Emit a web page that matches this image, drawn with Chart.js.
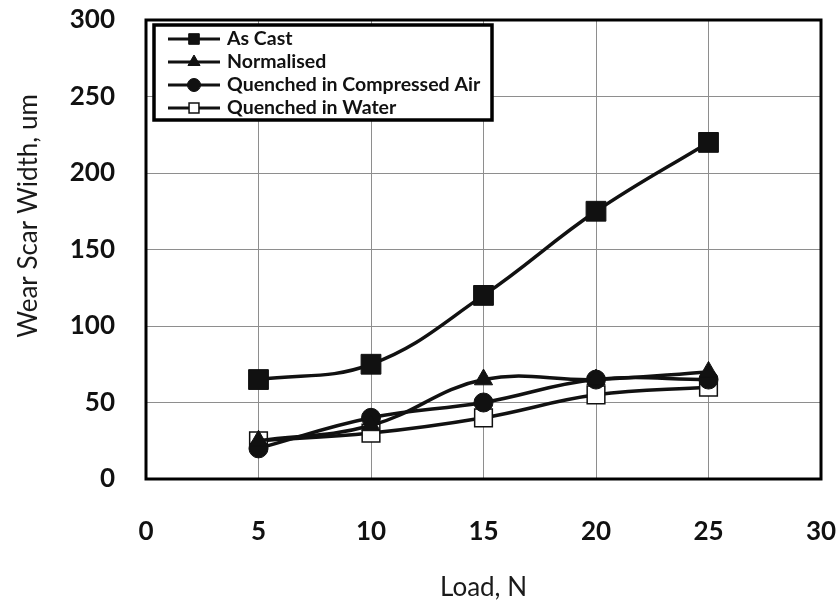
<!DOCTYPE html>
<html>
<head>
<meta charset="utf-8">
<script src="https://cdn.jsdelivr.net/npm/chart.js@4/dist/chart.umd.min.js"></script>
<style>
  html, body { margin:0; padding:0; background:#fff; }
  #wrap { width:840px; height:603px; position:relative; }
</style>
</head>
<body>
<div id="wrap"><canvas id="wearChart" width="840" height="603"></canvas></div>
<script>
(function() {

  // ─── DATA ───
  const loads        = [5, 10, 15, 20, 25];
  const asCast       = [65, 75, 120, 175, 220];
  const normalised   = [25, 35, 65, 65, 70];
  const compressedAir= [20, 40, 50, 65, 65];
  const water        = [25, 30, 40, 55, 60];

  const seriesNames  = ['As Cast', 'Normalised', 'Quenched in Compressed Air', 'Quenched in Water'];
  const xTicks       = [0, 5, 10, 15, 20, 25, 30];
  const yTicks       = [0, 50, 100, 150, 200, 250, 300];

  const INK = '#111111';
  const GRID = '#8e8e8e';
  const FONT = 'Lato, "Open Sans", sans-serif';

  function pts(vals) {
    return loads.map((x, i) => ({ x: x, y: vals[i] }));
  }

  function series(label, vals, style, radius, fill, bw) {
    return {
      label: label, data: pts(vals),
      borderColor: INK, borderWidth: 3.5, tension: 0.4,
      pointStyle: style, pointRadius: radius, pointHoverRadius: radius,
      pointBackgroundColor: fill, pointBorderColor: INK, pointBorderWidth: bw,
      fill: false
    };
  }

  // ─── PLOT FRAME + LEGEND + Y TITLE ───
  const frame = {
    id: 'frame',
    beforeDatasetsDraw(chart) {
      const { ctx, chartArea: a } = chart;
      ctx.save();
      ctx.strokeStyle = '#000';
      ctx.lineWidth = 3;
      ctx.strokeRect(a.left, a.top, a.right - a.left, a.bottom - a.top);
      ctx.restore();
    },
    afterDraw(chart) {
      const ctx = chart.ctx;
      ctx.save();

      // y title, placed like the original (a bit above plot centre)
      ctx.translate(29, 216);
      ctx.rotate(-Math.PI / 2);
      ctx.fillStyle = '#1a1a1a';
      ctx.font = '26px ' + FONT;
      ctx.textAlign = 'center';
      ctx.textBaseline = 'middle';
      ctx.fillText('Wear Scar Width, um', 0, 0);
      ctx.setTransform(1, 0, 0, 1, 0, 0);

      // legend box
      const bx = 154, by = 25, bw = 338, bh = 95;
      ctx.fillStyle = '#fff';
      ctx.fillRect(bx, by, bw, bh);
      ctx.strokeStyle = '#000';
      ctx.lineWidth = 3.5;
      ctx.strokeRect(bx, by, bw, bh);

      const rows = [39, 62, 85, 108];
      const legRadius = [7.5, 7, 6.5, 7];
      chart.data.datasets.forEach((ds, i) => {
        const y = rows[i];
        ctx.strokeStyle = INK;
        ctx.lineWidth = 3;
        ctx.beginPath();
        ctx.moveTo(168, y);
        ctx.lineTo(220, y);
        ctx.stroke();
        ctx.fillStyle = ds.pointBackgroundColor;
        ctx.strokeStyle = INK;
        ctx.lineWidth = ds.pointBorderWidth;
        Chart.helpers.drawPoint(ctx, {
          pointStyle: ds.pointStyle, radius: legRadius[i],
          borderWidth: ds.pointBorderWidth, rotation: 0
        }, 194, y);
        ctx.fillStyle = '#111';
        ctx.font = 'bold 19.5px ' + FONT;
        ctx.textAlign = 'left';
        ctx.textBaseline = 'middle';
        ctx.fillText(ds.label, 227, y);
      });
      ctx.restore();
    }
  };

  new Chart(document.getElementById('wearChart'), {
    type: 'line',
    data: {
      datasets: [
        series(seriesNames[0], asCast,        'rect',     14,   INK,   1),
        series(seriesNames[1], normalised,    'triangle', 10.5, INK,   1),
        series(seriesNames[2], compressedAir, 'circle',   9.5,  INK,   1),
        series(seriesNames[3], water,         'rect',     12.5, '#fff', 1.5)
      ]
    },
    options: {
      responsive: false,
      animation: false,
      layout: { padding: { left: 0, right: 19, top: 20, bottom: 0 } },
      plugins: { legend: { display: false }, tooltip: { enabled: false } },
      scales: {
        x: {
          type: 'linear', min: 0, max: 30,
          afterBuildTicks: s => { s.ticks = xTicks.map(v => ({ value: v })); },
          afterFit: s => { s.height = 124; s.paddingLeft = 0; s.paddingRight = 0; },
          grid: { color: GRID, lineWidth: 1, drawTicks: false },
          border: { display: false },
          ticks: { color: INK, padding: 37, font: { family: FONT, size: 26, weight: 'bold' } },
          title: { display: true, text: 'Load, N', color: '#1a1a1a', padding: { top: 0, bottom: 0 },
                   font: { family: FONT, size: 26 } }
        },
        y: {
          type: 'linear', min: 0, max: 300,
          afterBuildTicks: s => { s.ticks = yTicks.map(v => ({ value: v })); },
          afterFit: s => { s.width = 146; s.paddingTop = 0; s.paddingBottom = 0; },
          grid: { color: GRID, lineWidth: 1, drawTicks: false },
          border: { display: false },
          ticks: { color: INK, padding: 31, font: { family: FONT, size: 26, weight: 'bold' } }
        }
      }
    },
    plugins: [frame]
  });

})();
</script>
</body>
</html>
